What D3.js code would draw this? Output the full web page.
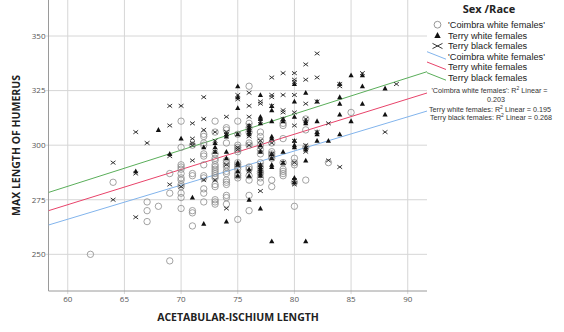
<!DOCTYPE html>
<html>
<head>
<meta charset="utf-8">
<script src="https://cdn.jsdelivr.net/npm/d3@7"></script>
<style>
  html, body { margin: 0; padding: 0; background: #fff; }
  svg { display: block; }
</style>
</head>
<body>
<svg id="chart" width="564" height="332"></svg>
<script>
// Acetabular-ischium length vs. maximum humerus length, by sex/race group.
// Each entry is [acetabular-ischium length, max length of humerus].
const coimbraWhite = [
  [62,250],[64,283],[67,274],[67,270],[67,265],[68,272],[69,287],[69,278],[69,247],
  [70,311],[70,299],[70,291],[70,290],[70,289],[70,287],[70,285],[70,284],[70,282],[70,281],[70,278],[70,276],[70,271],
  [71,300],[71,287],[71,286],[71,270],[71,269],[71,263],
  [72,305],[72,304],[72,301],[72,300],[72,296],[72,295],[72,291],[72,286],[72,285],[72,280],[72,278],[72,274],
  [73,311],[73,306],[73,296],[73,294],[73,293],[73,291],[73,290],[73,289],[73,288],[73,287],[73,286],[73,285],[73,282],[73,281],[73,275],[73,274],[73,273],
  [74,308],[74,307],[74,301],[74,293],[74,292],[74,291],[74,290],[74,288],[74,287],[74,284],[74,283],[74,282],[74,277],[74,276],[74,273],
  [75,311],[75,305],[75,300],[75,299],[75,298],[75,297],[75,292],[75,291],[75,290],[75,289],[75,287],[75,286],[75,285],[75,266],
  [76,327],[76,310],[76,308],[76,306],[76,301],[76,300],[76,290],[76,289],[76,286],[76,284],[76,277],[76,270],
  [77,306],[77,304],[77,302],[77,300],[77,298],[77,296],[77,292],[77,290],[77,288],[77,287],[77,285],[77,283],
  [78,301],[78,297],[78,296],[78,295],[78,294],[78,284],[78,281],
  [79,310],[79,309],[79,303],[79,292],[79,289],[79,288],[79,287],[79,286],
  [80,294],[80,292],[80,291],[80,283],[80,272],
  [81,312],[81,307],[81,299],[81,284],
  [83,292],[85,315]
];
const terryWhite = [
  [66,288],[68,307],[69,296],[70,303],[71,276],[72,299],[72,264],
  [73,301],[73,299],[73,297],
  [74,305],[74,304],[74,297],[74,294],[74,265],
  [75,327],[75,322],[75,317],[75,305],[75,292],[75,291],[75,288],[75,286],
  [76,309],[76,308],[76,307],[76,306],[76,305],[76,289],[76,286],[76,275],
  [77,323],[77,313],[77,312],[77,310],[77,300],[77,297],[77,291],[77,290],[77,289],[77,288],[77,287],[77,286],[77,271],
  [78,318],[78,316],[78,311],[78,304],[78,303],[78,296],[78,294],[78,291],[78,290],[78,256],
  [79,312],[79,311],[79,297],[79,292],
  [80,328],[80,320],[80,313],[80,302],[80,300],[80,299],[80,285],[80,283],
  [81,324],[81,311],[81,310],[81,299],[81,298],[81,293],[81,256],
  [82,320],[82,311],[82,306],[82,305],[82,302],
  [83,302],
  [84,328],[84,322],[84,319],[84,314],[84,305],
  [85,332],[85,311],
  [86,332],[86,327],[86,319],
  [88,326],[88,314]
];
const terryBlack = [
  [64,292],[64,275],[66,306],[66,287],[66,267],[67,301],
  [69,318],[69,309],[69,295],[69,282],
  [70,318],[70,281],
  [71,310],[71,303],[71,301],[71,300],[71,293],
  [72,322],[72,312],[72,307],[72,284],
  [73,306],[73,302],[73,297],[73,284],
  [74,313],[74,306],[74,305],[74,291],[74,271],
  [75,323],[75,321],[75,305],[75,299],[75,298],
  [76,324],[76,318],[76,313],[76,309],[76,304],[76,300],[76,288],
  [77,320],[77,319],[77,311],[77,302],[77,298],[77,291],[77,279],
  [78,331],[78,323],[78,322],[78,318],[78,301],[78,296],[78,294],
  [79,333],[79,323],[79,316],[79,315],[79,312],[79,292],
  [80,333],[80,330],[80,329],[80,323],[80,315],[80,309],[80,302],[80,292],[80,284],[80,282],
  [81,337],[81,330],[81,319],[81,312],[81,300],[81,297],
  [82,342],[82,331],[82,320],[82,306],
  [83,310],[83,293],
  [84,328],[84,327],[84,290],
  [86,333],
  [88,306],[89,328]
];

// Linear fit lines (intercept, slope) and their R² values
const groupNames = ["'Coimbra white females'", "Terry white females", "Terry black females"];
const fitIntercepts = [172.3, 175.9, 181.8];
const fitSlopes = [1.563, 1.614, 1.656];
const rSquared = ["0.203", "0.195", "0.268"];
const lineColors = ["#82b4ec", "#e8436a", "#5aae5a"];

const xTicks = [60, 65, 70, 75, 80, 85, 90];
const yTicks = [250, 275, 300, 325, 350];

const svg = d3.select("#chart");
const plotLeft = 48.5, plotRight = 427, plotBottom = 291, plotTop = 0;

const x = d3.scaleLinear().domain([58.3, 91.7]).range([plotLeft, plotRight]);
const y = d3.scaleLinear().domain([233.2, 366.5]).range([plotBottom, plotTop]);

const fontUI = "'Open Sans', 'DejaVu Sans', sans-serif";
const fontLegend = "'Liberation Sans', Arial, sans-serif";

// grid
const grid = svg.append("g");
grid.selectAll("line.v").data(xTicks).join("line")
  .attr("x1", d => x(d)).attr("x2", d => x(d))
  .attr("y1", plotTop).attr("y2", plotBottom + 3)
  .attr("stroke", "#d6d6d6").attr("stroke-width", 1);
grid.selectAll("line.h").data(yTicks).join("line")
  .attr("x1", plotLeft - 3).attr("x2", plotRight)
  .attr("y1", d => y(d)).attr("y2", d => y(d))
  .attr("stroke", "#d6d6d6").attr("stroke-width", 1);

// axis lines
svg.append("line").attr("x1", plotLeft).attr("x2", plotLeft).attr("y1", plotTop).attr("y2", plotBottom)
  .attr("stroke", "#9a9a9a").attr("stroke-width", 1);
svg.append("line").attr("x1", plotLeft).attr("x2", plotRight).attr("y1", plotBottom).attr("y2", plotBottom)
  .attr("stroke", "#9a9a9a").attr("stroke-width", 1);

// tick labels
svg.append("g").selectAll("text").data(xTicks).join("text")
  .attr("x", d => x(d)).attr("y", 302)
  .attr("text-anchor", "middle")
  .attr("font-family", fontUI).attr("font-size", 8).attr("fill", "#555")
  .text(d => d);
svg.append("g").selectAll("text").data(yTicks).join("text")
  .attr("x", 45.5).attr("y", d => y(d) + 2.8)
  .attr("text-anchor", "end")
  .attr("font-family", fontUI).attr("font-size", 8).attr("fill", "#555")
  .text(d => d);

// axis titles
svg.append("text")
  .attr("x", 238).attr("y", 321)
  .attr("text-anchor", "middle")
  .attr("font-family", fontUI).attr("font-weight", "bold").attr("font-size", 10.5)
  .attr("fill", "#222")
  .text("ACETABULAR-ISCHIUM LENGTH");
svg.append("text")
  .attr("transform", "translate(20,145.5) rotate(-90)")
  .attr("text-anchor", "middle")
  .attr("font-family", fontUI).attr("font-weight", "bold").attr("font-size", 10.5)
  .attr("fill", "#222")
  .text("MAX LENGTH OF HUMERUS");

// clip region for plot marks
svg.append("clipPath").attr("id", "plotClip")
  .append("rect").attr("x", plotLeft).attr("y", plotTop)
  .attr("width", plotRight - plotLeft).attr("height", plotBottom - plotTop);
const plot = svg.append("g").attr("clip-path", "url(#plotClip)");

// fit lines
const [d0, d1] = x.domain();
plot.selectAll("line.fit").data(fitSlopes).join("line")
  .attr("x1", x(d0)).attr("x2", x(d1))
  .attr("y1", (b, i) => y(fitIntercepts[i] + b * d0))
  .attr("y2", (b, i) => y(fitIntercepts[i] + b * d1))
  .attr("stroke", (b, i) => lineColors[i]).attr("stroke-width", 1);

// marker shapes
const triPath = "M0,-2.8L2.6,2L-2.6,2Z";
const crossPath = "M-2.4,-1.8L2.4,1.8M-2.4,1.8L2.4,-1.8";

plot.append("g").selectAll("circle").data(coimbraWhite).join("circle")
  .attr("cx", d => x(d[0])).attr("cy", d => y(d[1])).attr("r", 3.2)
  .attr("fill", "none").attr("stroke", "#8c8c8c").attr("stroke-width", 0.8);
plot.append("g").selectAll("path").data(terryWhite).join("path")
  .attr("transform", d => `translate(${x(d[0])},${y(d[1])})`)
  .attr("d", triPath).attr("fill", "#111");
plot.append("g").selectAll("path").data(terryBlack).join("path")
  .attr("transform", d => `translate(${x(d[0])},${y(d[1])})`)
  .attr("d", crossPath).attr("fill", "none").attr("stroke", "#222").attr("stroke-width", 0.9);

// legend
const lg = svg.append("g");
lg.append("text").attr("x", 489).attr("y", 13)
  .attr("text-anchor", "middle")
  .attr("font-family", fontUI).attr("font-weight", "bold").attr("font-size", 11).attr("fill", "#222")
  .text("Sex /Race");
const rowY = [24.7, 35.3, 46, 56.7, 67, 77.7];
lg.append("circle").attr("cx", 437.5).attr("cy", rowY[0]).attr("r", 3.4)
  .attr("fill", "none").attr("stroke", "#8c8c8c").attr("stroke-width", 0.9);
lg.append("path").attr("transform", `translate(437.5,${rowY[1]})`)
  .attr("d", "M0,-3.4L3.2,2.6L-3.2,2.6Z").attr("fill", "#111");
lg.append("path").attr("transform", `translate(437.5,${rowY[2]})`)
  .attr("d", "M-5,-2.6L5,2.6M-5,2.6L5,-2.6")
  .attr("stroke", "#222").attr("stroke-width", 0.9);
lineColors.forEach((c, i) => {
  lg.append("line").attr("x1", 427).attr("x2", 446)
    .attr("y1", rowY[3 + i] - 5).attr("y2", rowY[3 + i] + 2.5)
    .attr("stroke", c).attr("stroke-width", 1);
});
const labels = groupNames.concat(groupNames);
lg.selectAll("text.item").data(labels).join("text")
  .attr("x", 448).attr("y", (d, i) => rowY[i] + 3.3)
  .attr("font-family", fontLegend).attr("font-size", 9.2).attr("fill", "#222")
  .text(d => d);

// R² annotations
const rs = svg.append("g").attr("font-family", fontLegend).attr("font-size", 7.2).attr("fill", "#333");
const rsText = (sel, name, val, yy, xx) => {
  const t = sel.append("text").attr("x", xx).attr("y", yy);
  t.append("tspan").text(name + ": R");
  t.append("tspan").attr("dy", -3).attr("font-size", 5).text("2");
  t.append("tspan").attr("dy", 3).text(" Linear = " + val);
};
rsText(rs, groupNames[0], "", 93.2, 431.5);
rs.append("text").attr("x", 496).attr("y", 102.3).attr("text-anchor", "middle").text(rSquared[0]);
rsText(rs, groupNames[1], rSquared[1], 111.5, 429);
rsText(rs, groupNames[2], rSquared[2], 120.2, 430);
</script>
</body>
</html>
